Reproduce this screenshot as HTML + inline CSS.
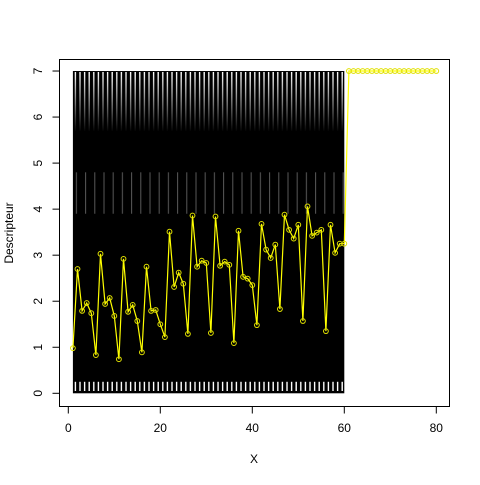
<!DOCTYPE html>
<html><head><meta charset="utf-8"><style>
html,body{margin:0;padding:0;background:#fff;}
svg text{font-family:"Liberation Sans",Arial,sans-serif;font-size:12px;fill:#000;}
</style></head><body>
<svg id="chart" width="480" height="480" viewBox="0 0 480 480" xmlns="http://www.w3.org/2000/svg">
<defs>
<pattern id="topGaps" x="72.9" y="0" width="4.6" height="480" patternUnits="userSpaceOnUse">
<rect x="1.8" y="0" width="1.4" height="480" fill="#fff"/>
</pattern>
<pattern id="midGaps" x="72.9" y="0" width="9.2" height="480" patternUnits="userSpaceOnUse">
<rect x="3" y="0" width="1" height="480" fill="#fff"/>
</pattern>
<linearGradient id="fadeTop" x1="0" y1="0" x2="0" y2="1">
<stop offset="0" stop-color="#fff" stop-opacity="1"/>
<stop offset="1" stop-color="#fff" stop-opacity="0"/>
</linearGradient>
<mask id="topMask"><rect x="0" y="72" width="480" height="60" fill="url(#fadeTop)"/></mask>
</defs>
<g id="bg"></g>
<g id="yellow"></g>
<rect x="59.5" y="59.5" width="390" height="347" fill="none" stroke="#000" stroke-width="1"/>
<g id="axes"></g>
<text x="254" y="463" text-anchor="middle">X</text>
<text transform="translate(13,233) rotate(-90)" text-anchor="middle">Descripteur</text>
</svg>
<script>
const yValues=[0.98,2.70,1.79,1.96,1.74,0.83,3.03,1.94,2.07,1.68,0.74,2.92,1.77,1.92,1.57,0.89,2.75,1.79,1.81,1.50,1.22,3.51,2.31,2.62,2.38,1.29,3.86,2.75,2.88,
2.83,1.31,3.84,2.77,2.86,2.79,1.09,3.53,2.53,2.49,2.35,1.48,3.68,3.12,2.94,3.23,1.83,3.88,3.55,3.36,3.66,1.57,4.06,3.42,3.49,3.55,1.35,3.66,3.05,3.25,3.25,
7,7,7,7,7,7,7,7,7,7,7,7,7,7,7,7,7,7,7,7];
const bgRange=[1,60];
const yRangeBg=[0,7];
const xTicks=[0,20,40,60,80];
const yTicks=[0,1,2,3,4,5,6,7];
const NS="http://www.w3.org/2000/svg";
const sx=v=>68.3+v*4.6;
const sy=v=>393.3-v*46.04;
function mk(tag,attrs,parent){const e=document.createElementNS(NS,tag);for(const k in attrs)e.setAttribute(k,attrs[k]);parent.appendChild(e);return e;}
const bg=document.getElementById('bg');
const x0=sx(bgRange[0]),x1=sx(bgRange[1]),yt=sy(yRangeBg[1]),yb=sy(yRangeBg[0]);
let r=mk('rect',{x:x0,y:yt,width:x1-x0,height:yb-yt,fill:'#000'},bg);


let g1=mk('rect',{x:x0,y:yt,width:x1-x0,height:60,fill:'url(#topGaps)',mask:'url(#topMask)'},bg);


let g2=mk('rect',{x:x0,y:sy(4.8),width:x1-x0,height:sy(3.9)-sy(4.8),fill:'url(#midGaps)',opacity:0.35},bg);


let g3=mk('rect',{x:x0,y:sy(0.25),width:x1-x0,height:sy(0.05)-sy(0.25),fill:'url(#topGaps)'},bg);


const yg=document.getElementById('yellow');
const pts=yValues.map((v,i)=>sx(i+1)+','+sy(v)).join(' ');
let pl=mk('polyline',{points:pts,fill:'none',stroke:'#ffff00','stroke-width':1.2},yg);


yValues.forEach((v,i)=>{
 const c=mk('circle',{cx:sx(i+1),cy:sy(v),r:2.4,fill:'none',stroke:'#e0e000','stroke-width':1},yg);
 
 
});
const ax=document.getElementById('axes');
let xa=mk('line',{x1:sx(xTicks[0]),x2:sx(xTicks[xTicks.length-1]),y1:406.5,y2:406.5,stroke:'#000'},ax);


xTicks.forEach(t=>{
 const l=mk('line',{x1:sx(t),x2:sx(t),y1:406.5,y2:413.5,stroke:'#000'},ax);
 
 
 const tx=mk('text',{x:sx(t),y:432,'text-anchor':'middle'},ax);
 tx.textContent=t;
 
 
});
let ya=mk('line',{x1:59.5,x2:59.5,y1:sy(yTicks[0]),y2:sy(yTicks[yTicks.length-1]),stroke:'#000'},ax);


yTicks.forEach(t=>{
 const l=mk('line',{x1:52.5,x2:59.5,y1:sy(t),y2:sy(t),stroke:'#000'},ax);
 
 
 const tx=mk('text',{transform:'translate(42,'+sy(t)+') rotate(-90)','text-anchor':'middle'},ax);
 tx.textContent=t;
 
 
});
</script>
</body></html>
